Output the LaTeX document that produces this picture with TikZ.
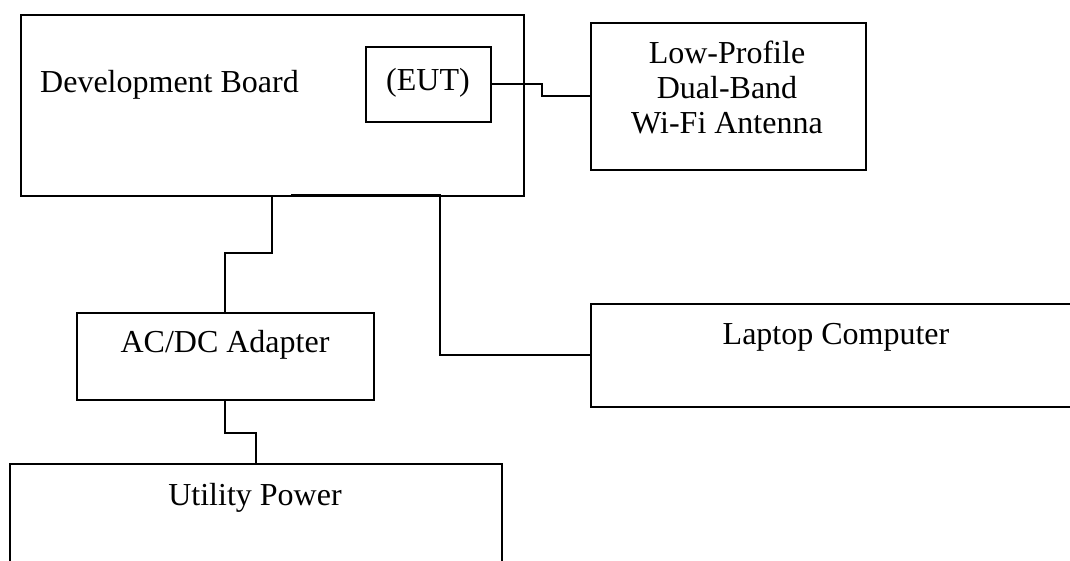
\documentclass[tikz,border=0pt]{standalone}
\usepackage{fontspec}
\setmainfont{Liberation Serif}
\usepackage{tikz}
\usetikzlibrary{positioning, calc}

\begin{document}
\begin{tikzpicture}[x=1pt, y=-1pt,
    box/.style={draw, line width=1.8pt, inner sep=0pt, anchor=north west},
    wire/.style={line width=2pt},
    lbl/.style={font=\fontsize{32}{35}\selectfont, inner sep=0pt, align=center}]
    \useasboundingbox (0,0) rectangle (1070,560);
    \clip (0,0) rectangle (1070,560);

    % Boxes
    \node[box, minimum width=503pt, minimum height=181pt] (board) at (20,14) {};
    \node[box, minimum width=125pt, minimum height=75pt] (eut) at (365,46) {};
    \node[box, minimum width=275pt, minimum height=147pt] (antenna) at (590,22) {};
    \node[box, minimum width=500pt, minimum height=103pt] (laptop) at (590,303) {};
    \node[box, minimum width=297pt, minimum height=87pt] (adapter) at (76,312) {};
    \node[box, minimum width=492pt, minimum height=120pt] (utility) at (9,463) {};

    % Labels
    \node[lbl, anchor=base west] (boardtxt) at (40,92) {Development Board};
    \node[lbl, anchor=base] (euttxt) at (428,90) {(EUT)};
    \node[lbl, anchor=base] (antennatxt) at (727,133) {Low-Profile\\Dual-Band\\Wi-Fi Antenna};
    \node[lbl, anchor=base] (laptoptxt) at (836,344) {Laptop Computer};
    \node[lbl, anchor=base] (adaptertxt) at (225,352) {AC/DC Adapter};
    \node[lbl, anchor=base] (utilitytxt) at (255,505) {Utility Power};

    % Connections
    \coordinate (pwrtap) at (272,195);
    \coordinate (laptap) at (291,195);
    \draw[wire] (eut.east) -- ++(50,0) |- (antenna.west);
    \draw[wire] (pwrtap) -- ++(0,58) -| (adapter.north);
    \draw[wire] (adapter.south) -- ++(0,32) -| (utility.north);
    \draw[wire] (laptap) -- ++(149,0) |- (laptop.west);
\end{tikzpicture}
\end{document}
